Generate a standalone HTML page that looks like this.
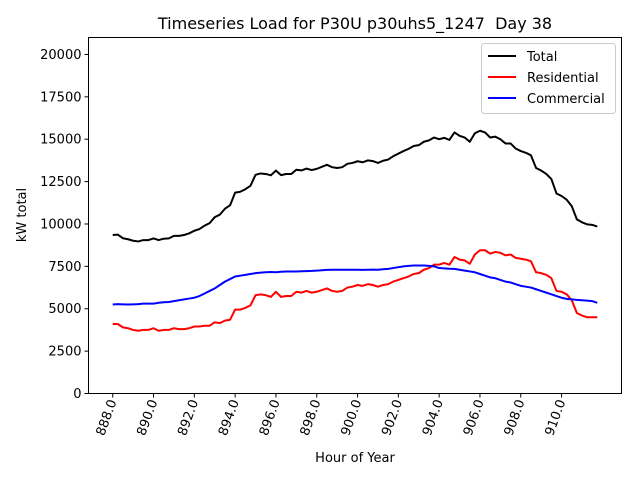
<!DOCTYPE html>
<html><head><meta charset="utf-8"><style>
body{margin:0;background:#fff;}
svg text{font-family:"DejaVu Sans","Liberation Sans",sans-serif;}
</style></head><body>
<svg id="chart" width="640" height="480" xmlns="http://www.w3.org/2000/svg">
<rect width="640" height="480" fill="#fff"/>
<text x="355" y="29" font-size="16" text-anchor="middle" style="white-space:pre" xml:space="preserve">Timeseries Load for P30U p30uhs5_1247  Day 38</text>
<g id="axes"></g>
<g id="series"></g>
<rect x="88.5" y="37.5" width="533" height="356" fill="none" stroke="#000" stroke-width="1"/>
<text x="355" y="462" font-size="13" text-anchor="middle">Hour of Year</text>
<text transform="translate(26,215) rotate(-90)" font-size="13" text-anchor="middle">kW total</text>
<g>
<rect x="481.5" y="43.5" width="134" height="70" rx="3" fill="#fff" fill-opacity="0.8" stroke="#ccc"/>
<g><line x1="488" y1="56" x2="516" y2="56" stroke="#000" stroke-width="2"/><text x="527" y="61" font-size="13">Total</text></g>
<g><line x1="488" y1="77" x2="516" y2="77" stroke="red" stroke-width="2"/><text x="527" y="82" font-size="13">Residential</text></g>
<g><line x1="488" y1="98" x2="516" y2="98" stroke="blue" stroke-width="2"/><text x="527" y="103" font-size="13">Commercial</text></g>
</g>
</svg>
<script>
const startHour = 888;
const stepHours = 0.25;
const xTicks = [888,890,892,894,896,898,900,902,904,906,908,910];
const yTicks = [0,2500,5000,7500,10000,12500,15000,17500,20000];
const residential = [4100,4100,3900,3850,3750,3700,3750,3750,3850,3700,3750,3750,3850,3800,3800,3850,3950,3950,4000,4000,4200,4150,4300,4350,4950,4950,5050,5200,5800,5850,5800,5700,6000,5700,5750,5750,6000,5950,6050,5950,6000,6100,6200,6050,6000,6050,6250,6300,6400,6350,6450,6400,6300,6400,6450,6600,6700,6800,6900,7050,7100,7300,7400,7600,7600,7700,7600,8050,7900,7850,7650,8200,8450,8450,8250,8350,8300,8150,8200,8000,7950,7900,7800,7150,7100,7000,6800,6050,6000,5850,5500,4750,4600,4500,4500,4500];
const commercial = [5250,5270,5260,5250,5260,5270,5300,5300,5300,5350,5380,5400,5450,5500,5550,5600,5650,5750,5900,6050,6200,6400,6600,6750,6900,6950,7000,7050,7100,7130,7150,7170,7150,7180,7200,7200,7200,7210,7220,7230,7250,7270,7290,7300,7300,7300,7300,7300,7300,7290,7300,7310,7300,7330,7350,7400,7450,7500,7530,7550,7550,7550,7530,7500,7400,7380,7360,7350,7300,7250,7200,7150,7050,6950,6850,6800,6700,6600,6550,6450,6350,6300,6250,6150,6050,5950,5850,5750,5650,5580,5550,5520,5500,5480,5450,5350];
const total = [9350,9370,9160,9100,9010,8970,9050,9050,9150,9050,9130,9150,9300,9300,9350,9450,9600,9700,9900,10050,10400,10550,10900,11100,11850,11900,12050,12250,12900,12980,12950,12870,13150,12880,12950,12950,13200,13160,13270,13180,13250,13370,13490,13350,13300,13350,13550,13600,13700,13640,13750,13710,13600,13730,13800,14000,14150,14300,14430,14600,14650,14850,14930,15100,15000,15080,14960,15400,15200,15100,14850,15350,15500,15400,15100,15150,15000,14750,14750,14450,14300,14200,14050,13300,13150,12950,12650,11800,11650,11430,11050,10270,10100,9980,9950,9850];

const NS="http://www.w3.org/2000/svg";
const X0=88.5,X1=621.5,Y0=393.5,Y1=37.5;
const xMin=886.8125,xMax=912.9375,yMin=0,yMax=21000;
function sx(h){return X0+(h-xMin)/(xMax-xMin)*(X1-X0);}
function sy(v){return Y0-(v-yMin)/(yMax-yMin)*(Y0-Y1);}
const axes=document.getElementById('axes');
xTicks.forEach(t=>{
  const x=sx(t);
  const l=document.createElementNS(NS,'line');
  l.setAttribute('x1',x);l.setAttribute('x2',x);l.setAttribute('y1',Y0);l.setAttribute('y2',Y0+4);
  l.setAttribute('stroke','#000');
  
  
  axes.appendChild(l);
  const tx=document.createElementNS(NS,'text');
  tx.setAttribute('transform','translate('+(x+4)+','+(Y0+8)+') rotate(-70)');
  tx.setAttribute('text-anchor','end');
  tx.setAttribute('font-size','13');
  tx.textContent=t.toFixed(1);
  
  
  axes.appendChild(tx);
});
yTicks.forEach(t=>{
  const y=sy(t);
  const l=document.createElementNS(NS,'line');
  l.setAttribute('x1',X0-4);l.setAttribute('x2',X0);l.setAttribute('y1',y);l.setAttribute('y2',y);
  l.setAttribute('stroke','#000');
  
  
  axes.appendChild(l);
  const tx=document.createElementNS(NS,'text');
  tx.setAttribute('x',X0-7);tx.setAttribute('y',y+4.5);
  tx.setAttribute('text-anchor','end');
  tx.setAttribute('font-size','13');
  tx.textContent=String(t);
  
  
  axes.appendChild(tx);
});
const series=document.getElementById('series');
function draw(arr,color,name){
  const p=document.createElementNS(NS,'polyline');
  p.setAttribute('points',arr.map((v,i)=>sx(startHour+i*stepHours).toFixed(2)+','+sy(v).toFixed(2)).join(' '));
  p.setAttribute('fill','none');p.setAttribute('stroke',color);p.setAttribute('stroke-width','2');
  p.setAttribute('stroke-linejoin','round');
  
  
  series.appendChild(p);
}
draw(total,'#000','total-line');
draw(residential,'red','residential-line');
draw(commercial,'blue','commercial-line');
</script>
</body></html>
